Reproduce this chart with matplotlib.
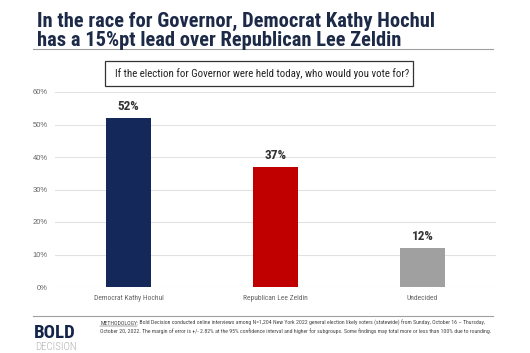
import matplotlib.pyplot as plt
from matplotlib.lines import Line2D
from matplotlib.patches import Rectangle

plt.rcParams['font.family'] = ['Liberation Sans', 'DejaVu Sans']
COND = ['Roboto Condensed', 'Liberation Sans']

candidates = ['Democrat Kathy Hochul', 'Republican Lee Zeldin', 'Undecided']
shares = [52, 37, 12]
bar_colors = ['#14295A', '#C00000', '#A0A0A0']
y_ticks = [0, 10, 20, 30, 40, 50, 60]

title_lines = ['In the race for Governor, Democrat Kathy Hochul',
               'has a 15%pt lead over Republican Lee Zeldin']
question = 'If the election for Governor were held today, who would you vote for?'
method_rest = (' Bold Decision conducted online interviews among N=1,204 New York 2022 general election '
               'likely voters (statewide) from Sunday, October 16 \u2013 Thursday,')
method_line2 = ('October 20, 2022. The margin of error is +/- 2.82% at the 95% confidence interval and '
                'higher for subgroups. Some findings may total more or less than 100% due to rounding.')

W, H = 530, 353


def px(x, y):
    # pixel coords (from top-left) -> figure fraction
    return x / W, 1 - y / H


def draw():
    fig = plt.figure(figsize=(5.3, 3.53), dpi=100)
    fig.patch.set_facecolor('white')

    # title
    for line, base in zip(title_lines, [26.5, 45.5]):
        fig.text(*px(37, base), line, fontsize=14.8, fontweight='bold', family=COND,
                 color='#1C2A48', va='baseline', ha='left')
    fig.add_artist(Line2D([33 / W, 493 / W], [1 - 48.5 / H] * 2, color='#A0A0A0', lw=0.8))

    # question box
    fig.add_artist(Rectangle(px(105, 86), 308 / W, 25 / H, fc='white', ec='#333333', lw=0.9))
    fig.text(*px(262, 74), question, fontsize=7.8, family=COND,
             color='#222222', ha='center', va='center')

    ax = fig.add_axes([55 / W, 1 - 287 / H, 441 / W, 195 / H])
    x = range(len(candidates))
    ax.bar(x, shares, width=0.31, color=bar_colors, zorder=3)
    for xi, v in zip(x, shares):
        ax.text(xi, v + 1.6, f'{v}%', ha='center', va='bottom', fontsize=9.5,
                fontweight='bold', family=COND, color='#333333')
    ax.set_xlim(-0.5, 2.5)
    ax.set_ylim(0, 60)
    ax.set_yticks(y_ticks)
    ax.set_yticklabels([f'{t}%' for t in y_ticks])
    ax.set_xticks(list(x))
    ax.set_xticklabels(candidates, family=COND)
    ax.grid(axis='y', color='#E2E2E2', lw=0.8, zorder=0)
    ax.tick_params(length=0, labelsize=5.5, labelcolor='#666666')
    ax.tick_params(axis='x', pad=6, labelsize=5.4)
    ax.tick_params(axis='y', pad=5)
    for s in ax.spines.values():
        s.set_visible(False)

    # footer
    fig.add_artist(Line2D([33 / W, 493 / W], [1 - 316 / H] * 2, color='#A0A0A0', lw=0.8))
    fig.text(*px(34, 338.5), 'BOLD', fontsize=13.5, fontweight='bold', family=COND,
             color='#14254A', va='baseline', ha='left')
    fig.text(*px(35, 350), 'DECISION', fontsize=7.8, fontweight='light', family=COND,
             color='#B0B0B0', va='baseline', ha='left')

    t1 = fig.text(*px(100, 325), 'METHODOLOGY:', fontsize=4.15, family=COND,
                  color='#444444', va='baseline', ha='left')
    fig.canvas.draw()
    bb = t1.get_window_extent()
    fig.text(bb.x1 / W, 1 - 325 / H, method_rest, fontsize=4.15, family=COND,
             color='#444444', va='baseline', ha='left')
    fig.add_artist(Line2D([bb.x0 / W, (bb.x1 - 1) / W], [1 - 326.3 / H] * 2,
                          color='#444444', lw=0.35))
    fig.text(*px(100, 333), method_line2, fontsize=4.15, family=COND,
             color='#444444', va='baseline', ha='left')

    fig.savefig('out.png', dpi=100)


if __name__ == '__main__':
    draw()
